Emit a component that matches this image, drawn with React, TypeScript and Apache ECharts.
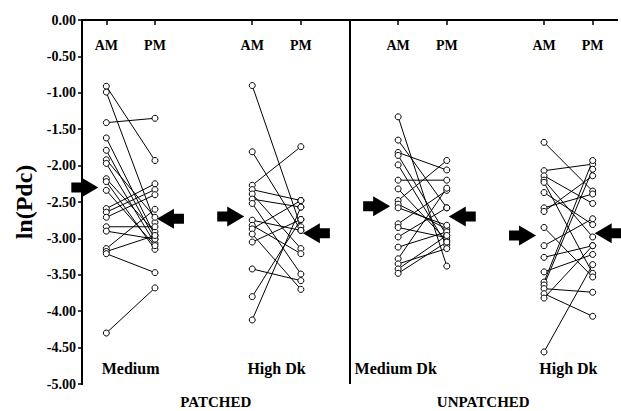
import React, { useEffect, useRef } from "react";
import * as echarts from "echarts";

// Column layout (x-axis units 0..11)
const columnPos = [0.5, 1.5, 3.5, 4.5, 6.5, 7.5, 9.5, 10.5];
const columnLabels = ["AM", "PM", "AM", "PM", "AM", "PM", "AM", "PM"];
const groupNames = ["Medium", "High Dk", "Medium Dk", "High Dk"];
const groupLabelPos = [1.0, 4.0, 6.45, 10.0];
const panelNames = ["PATCHED", "UNPATCHED"];
const panelPos = [2.75, 8.25];
const panelDivider = 5.5;

// Patched, Medium
const g1AM = [-0.91, -0.99, -1.41, -1.62, -1.79, -1.92, -1.97, -2.18, -2.22, -2.34, -2.59, -2.64, -2.71, -2.84, -2.90, -3.14, -3.18, -3.21, -4.30];
const g1PM = [-1.93, -2.78, -1.35, -2.96, -3.01, -2.71, -3.07, -2.91, -3.15, -3.10, -2.25, -2.33, -2.40, -2.84, -3.01, -2.60, -2.96, -3.47, -3.68];
// Patched, High Dk
const g2AM = [-0.90, -1.81, -2.27, -2.33, -2.39, -2.46, -2.52, -2.75, -2.82, -2.87, -2.94, -3.05, -3.42, -3.80, -4.12];
const g2PM = [-2.84, -2.89, -1.74, -2.48, -3.14, -2.57, -3.49, -2.89, -3.21, -2.48, -3.70, -2.74, -3.58, -2.74, -2.57];
// Unpatched, Medium Dk
const g3AM = [-1.33, -1.65, -1.82, -1.86, -1.99, -2.20, -2.32, -2.48, -2.53, -2.58, -2.80, -2.85, -2.98, -3.12, -3.28, -3.35, -3.42, -3.48];
const g3PM = [-3.38, -2.58, -2.06, -2.96, -3.09, -2.20, -3.03, -1.93, -2.87, -2.82, -2.34, -2.99, -2.58, -2.91, -2.31, -3.14, -2.96, -3.05];
// Unpatched, High Dk
const g4AM = [-1.68, -2.07, -2.14, -2.20, -2.23, -2.37, -2.58, -2.63, -2.85, -3.10, -3.26, -3.46, -3.60, -3.64, -3.69, -3.76, -3.82, -4.56];
const g4PM = [-2.35, -1.98, -2.52, -2.98, -3.48, -2.81, -2.39, -2.14, -3.53, -2.73, -3.10, -3.22, -1.93, -2.05, -3.74, -4.07, -3.10, -3.36];

// Group means (arrows)
const meanAM = [-2.30, -2.70, -2.56, -2.96];
const meanPM = [-2.73, -2.93, -2.70, -2.93];

const FONT = '"Liberation Serif", "Times New Roman", serif';

export default function App() {
  const ref = useRef<HTMLDivElement>(null);
  useEffect(() => {
    if (!ref.current) return;
    const chart = echarts.init(ref.current, null, { renderer: "svg" });
    const groups = [
      [g1AM, g1PM],
      [g2AM, g2PM],
      [g3AM, g3PM],
      [g4AM, g4PM],
    ];
    const series: any[] = [];
    groups.forEach(([am, pm], g) => {
      am.forEach((v, i) => {
        series.push({
          type: "line",
          xAxisIndex: 0,
          yAxisIndex: 0,
          data: [
            [columnPos[2 * g], v],
            [columnPos[2 * g + 1], pm[i]],
          ],
          symbol: "circle",
          symbolSize: 6,
          showSymbol: true,
          silent: true,
          itemStyle: { color: "#fff", borderColor: "#000", borderWidth: 1 },
          lineStyle: { color: "#000", width: 1 },
          z: 3,
        });
      });
    });
    series[0].markLine = {
      silent: true,
      symbol: ["none", "none"],
      label: { show: false },
      lineStyle: { color: "#000", width: 2, type: "solid" },
      data: [{ xAxis: panelDivider }],
    };
    const arrowData: any[] = [];
    meanAM.forEach((m, g) => arrowData.push([columnPos[2 * g], m, 1]));
    meanPM.forEach((m, g) => arrowData.push([columnPos[2 * g + 1], m, -1]));
    series.push({
      type: "custom",
      xAxisIndex: 0,
      yAxisIndex: 0,
      clip: false,
      silent: true,
      z: 5,
      data: arrowData,
      renderItem: (params: any, api: any) => {
        const p = api.coord([api.value(0), api.value(1)]);
        const dir = api.value(2);
        const tx = dir > 0 ? p[0] - 8 : p[0] + 2;
        const y = p[1];
        const L = 27, H = 17, hh = 10, sh = 5;
        const pts = [
          [tx, y],
          [tx - dir * H, y - hh],
          [tx - dir * H, y - sh],
          [tx - dir * L, y - sh],
          [tx - dir * L, y + sh],
          [tx - dir * H, y + sh],
          [tx - dir * H, y + hh],
        ];
        return { type: "polygon", shape: { points: pts }, style: { fill: "#000" } };
      },
    });

    const baseX = { type: "value", min: 0, max: 11, splitLine: { show: false } };
    chart.setOption({
      animation: false,
      backgroundColor: "#fff",
      grid: { left: 82, right: 4, top: 20, bottom: 27, containLabel: false },
      xAxis: [
        {
          ...baseX,
          position: "bottom",
          axisLine: { show: true, lineStyle: { color: "#000", width: 2 } },
          axisTick: { show: false },
          axisLabel: {
            inside: true,
            margin: 8,
            customValues: groupLabelPos,
            formatter: (v: number) => groupNames[groupLabelPos.indexOf(v)] ?? "",
            color: "#000",
            fontFamily: FONT,
            fontWeight: "bold",
            fontSize: 16,
            verticalAlign: "bottom",
          },
        },
        {
          ...baseX,
          position: "top",
          axisLine: { show: true, lineStyle: { color: "#000", width: 2 } },
          axisTick: { show: true, inside: true, length: 5, customValues: columnPos, lineStyle: { color: "#000", width: 1.5 } },
          axisLabel: {
            inside: true,
            margin: 18,
            customValues: columnPos,
            formatter: (v: number) => columnLabels[columnPos.indexOf(v)] ?? "",
            color: "#000",
            fontFamily: FONT,
            fontWeight: "bold",
            fontSize: 14,
            verticalAlign: "top",
          },
        },
        {
          ...baseX,
          position: "bottom",
          axisLine: { show: false },
          axisTick: { show: false },
          axisLabel: {
            margin: 10,
            customValues: panelPos,
            formatter: (v: number) => panelNames[panelPos.indexOf(v)] ?? "",
            color: "#000",
            fontFamily: FONT,
            fontWeight: "bold",
            fontSize: 15,
          },
        },
      ],
      yAxis: [
        {
          type: "value",
          min: -5,
          max: 0,
          interval: 0.5,
          position: "left",
          name: "ln(Pdc)",
          nameLocation: "middle",
          nameGap: 41,
          nameRotate: 90,
          nameTextStyle: { color: "#000", fontFamily: FONT, fontWeight: "bold", fontSize: 24 },
          axisLine: { show: true, lineStyle: { color: "#000", width: 2 } },
          axisTick: { show: true, length: 4, lineStyle: { color: "#000", width: 1.5 } },
          splitLine: { show: false },
          axisLabel: {
            formatter: (v: number) => v.toFixed(2),
            color: "#000",
            fontFamily: FONT,
            fontWeight: "bold",
            fontSize: 14,
            margin: 6,
          },
        },
        {
          type: "value",
          min: -5,
          max: 0,
          position: "right",
          axisLine: { show: true, lineStyle: { color: "#000", width: 2 } },
          axisTick: { show: false },
          axisLabel: { show: false },
          splitLine: { show: false },
        },
      ],
      series,
    });
    return () => chart.dispose();
  }, []);
  return (
    <div
      ref={ref}
      style={{ position: "fixed", left: 0, top: 0, width: 621, height: 411, background: "#fff" }}
    />
  );
}
